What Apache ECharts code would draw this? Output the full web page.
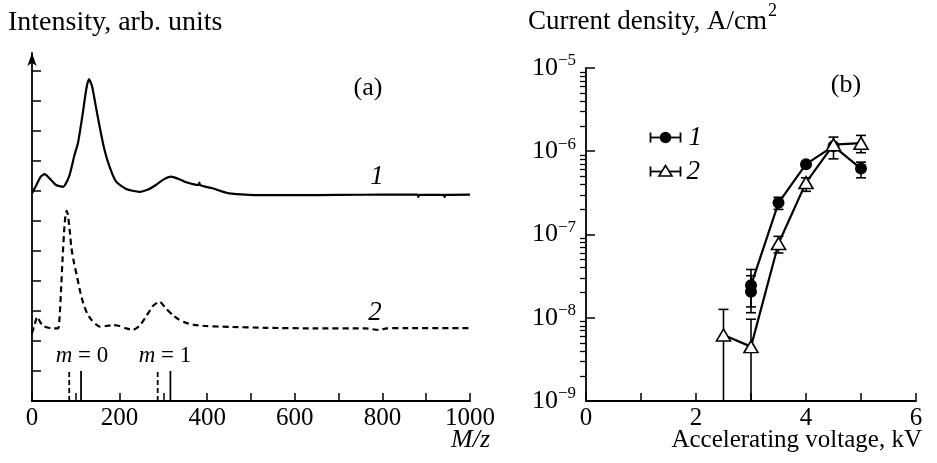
<!DOCTYPE html>
<html>
<head>
<meta charset="utf-8">
<script src="https://cdn.jsdelivr.net/npm/echarts@6/dist/echarts.min.js"></script>
<style>
  html, body { margin: 0; padding: 0; background: #fff; }
  #chart { width: 937px; height: 463px; }
</style>
</head>
<body>
<div id="chart"></div>
<script>
// ---- panel (a): mass spectra, [M/z, intensity in tick units]
const spectrum1 = [
  [0, 6.92], [10, 7.2], [20, 7.48], [29, 7.56], [40, 7.42], [55, 7.2], [71, 7.14],
  [85, 7.5], [97, 8.2], [105, 8.6], [115, 9.5], [124, 10.4], [130, 10.73], [137, 10.5],
  [146, 9.8], [155, 9.1], [165, 8.4], [177, 7.81], [192, 7.31], [215, 7.07], [245, 6.97],
  [265, 7.05], [283, 7.2], [300, 7.38], [317, 7.48], [335, 7.4], [352, 7.29], [370, 7.22],
  [380, 7.2], [382, 7.28], [384, 7.19], [412, 7.09], [450, 6.92], [533, 6.86], [600, 6.86],
  [700, 6.87], [800, 6.88], [880, 6.88], [882, 6.8], [884, 6.87], [940, 6.87], [942, 6.8],
  [944, 6.87], [1000, 6.88]
]
const spectrum2 = [
  [0, 2.26], [6, 2.55], [12, 2.81], [18, 2.65], [25, 2.5], [33, 2.46], [50, 2.42], [60, 2.43],
  [63, 2.8], [66, 3.6], [70, 4.8], [74, 5.8], [77, 6.25], [79, 6.34], [82, 6.2], [86, 5.7],
  [90, 5.1], [96, 4.6], [102, 4.2], [110, 3.65], [117, 3.26], [126, 2.92], [136, 2.7],
  [155, 2.48], [170, 2.5], [185, 2.53], [200, 2.5], [215, 2.42], [230, 2.37], [245, 2.5],
  [260, 2.8], [275, 3.15], [291, 3.31], [305, 3.1], [321, 2.87], [335, 2.72], [351, 2.61],
  [370, 2.54], [397, 2.5], [450, 2.47], [533, 2.44], [650, 2.42], [761, 2.42], [791, 2.37],
  [810, 2.42], [850, 2.43], [1000, 2.43]
]
const sticksDashed = [85, 287]   // m = 0, m = 1
const sticksSolid = [112, 316]
const stickHeight = 1
const intensityTicks = [1, 2, 3, 4, 5, 6, 7, 8, 9, 10, 11]
const mzLabels = [0, 200, 400, 600, 800, 1000]

// ---- panel (b): current density vs accelerating voltage
const voltage1 = [3, 3, 3.5, 4, 4.5, 5]
const density1 = [2.05e-8, 2.45e-8, 2.4e-7, 7.0e-7, 1.15e-6, 6.2e-7]
const err1Low = [1.15e-8, 1.35e-8, 2.0e-7, null, null, 4.8e-7]
const err1High = [3.2e-8, 3.8e-8, 2.8e-7, null, null, 7.4e-7]
const voltage2 = [2.5, 3, 3.5, 4, 4.5, 5]
const density2 = [6.2e-9, 4.5e-9, 7.8e-8, 4.2e-7, 1.2e-6, 1.25e-6]
const err2Low = [1e-9, 1e-9, 6.0e-8, 3.3e-7, 8.1e-7, 9.6e-7]
const err2High = [1.26e-8, 9.6e-9, 9.5e-8, 4.8e-7, 1.48e-6, 1.55e-6]
const voltageLabels = [0, 2, 4, 6]

const minorDecadeTicks = []
for (let e = -9; e < -5; e++) {
  for (let m = 2; m <= 9; m++) minorDecadeTicks.push(m * Math.pow(10, e))
}

const FONT = 'Liberation Serif'
const INK = '#000'

const chart = echarts.init(document.getElementById('chart'))

const pairs = (xs, ys) => xs.map((x, i) => [x, ys[i]])
const errRows = (xs, lo, hi) => xs.map((x, i) => [x, lo[i], hi[i]]).filter(r => r[1] != null)

const renderErr = (params, api) => {
  const x = api.value(0)
  const top = api.coord([x, api.value(2)])
  const bot = api.coord([x, api.value(1)])
  const w = 5
  const st = { stroke: INK, lineWidth: 1.6 }
  return {
    type: 'group',
    children: [
      { type: 'line', shape: { x1: top[0], y1: top[1], x2: bot[0], y2: bot[1] }, style: st },
      { type: 'line', shape: { x1: top[0] - w, y1: top[1], x2: top[0] + w, y2: top[1] }, style: st },
      { type: 'line', shape: { x1: bot[0] - w, y1: bot[1], x2: bot[0] + w, y2: bot[1] }, style: st }
    ]
  }
}

const stickSeries = (xs, dashed) => xs.map(x => ({
  type: 'line',
  xAxisIndex: 0,
  yAxisIndex: 0,
  data: [[x, 0], [x, stickHeight]],
  symbol: 'none',
  lineStyle: { color: INK, width: 1.8, type: dashed ? [5, 3] : 'solid' },
  silent: true
}))

const axisLine = { show: true, onZero: false, lineStyle: { color: INK, width: 1.8 } }
const tickLabel = { fontFamily: FONT, fontSize: 25, color: INK, formatter: v => String(v) }

const option = {
  animation: false,
  backgroundColor: '#fff',
  grid: [
    { left: 32, top: 53, width: 438, height: 348 },
    { left: 586, top: 68, width: 330, height: 333 }
  ],
  xAxis: [
    {
      gridIndex: 0, type: 'value', min: 0, max: 1000, interval: 100,
      axisLine,
      axisTick: { inside: true, length: 8, lineStyle: { color: INK, width: 1.5 } },
      axisLabel: { ...tickLabel, customValues: mzLabels, margin: 5 },
      splitLine: { show: false }
    },
    {
      gridIndex: 1, type: 'value', min: 0, max: 6, interval: 1,
      axisLine,
      axisTick: { inside: true, length: 8, lineStyle: { color: INK, width: 1.5 } },
      axisLabel: { ...tickLabel, customValues: voltageLabels, margin: 5 },
      splitLine: { show: false }
    }
  ],
  yAxis: [
    {
      gridIndex: 0, type: 'value', min: 0, max: 11.6,
      axisLine: { ...axisLine, symbol: ['none', 'arrow'], symbolSize: [7, 13] },
      axisTick: { inside: true, length: 9, customValues: intensityTicks, lineStyle: { color: INK, width: 1.5 } },
      axisLabel: { show: false },
      splitLine: { show: false }
    },
    {
      gridIndex: 1, type: 'log', logBase: 10, min: 1e-9, max: 1e-5,
      axisLine,
      axisTick: { inside: true, length: 9, lineStyle: { color: INK, width: 1.5 } },
      axisLabel: {
        margin: 10,
        formatter: v => '{b|10}{s|\u2212' + Math.abs(Math.round(Math.log10(v))) + '}',
        rich: {
          b: { fontFamily: FONT, fontSize: 26, color: INK },
          s: { fontFamily: FONT, fontSize: 17, color: INK, padding: [0, 0, 14, 0] }
        }
      },
      splitLine: { show: false }
    },
    {
      gridIndex: 1, type: 'log', logBase: 10, min: 1e-9, max: 1e-5,
      axisLine: { show: false },
      axisTick: { inside: true, length: 6, customValues: minorDecadeTicks, lineStyle: { color: INK, width: 1.3 } },
      axisLabel: { show: false },
      splitLine: { show: false }
    }
  ],
  series: [
    {
      type: 'line', xAxisIndex: 0, yAxisIndex: 0, data: spectrum1,
      symbol: 'none', smooth: 0.2,
      lineStyle: { color: INK, width: 2.2 }
    },
    {
      type: 'line', xAxisIndex: 0, yAxisIndex: 0, data: spectrum2,
      symbol: 'none', smooth: 0.2,
      lineStyle: { color: INK, width: 2.2, type: [6, 4] }
    },
    ...stickSeries(sticksDashed, true),
    ...stickSeries(sticksSolid, false),
    {
      type: 'custom', xAxisIndex: 1, yAxisIndex: 1, clip: true, z: 1,
      data: errRows(voltage1, err1Low, err1High), renderItem: renderErr
    },
    {
      type: 'custom', xAxisIndex: 1, yAxisIndex: 1, clip: true, z: 1,
      data: errRows(voltage2, err2Low, err2High), renderItem: renderErr
    },
    {
      type: 'line', xAxisIndex: 1, yAxisIndex: 1, data: pairs(voltage1, density1), z: 3,
      symbol: 'circle', symbolSize: 12,
      itemStyle: { color: INK },
      lineStyle: { color: INK, width: 2.2 }
    },
    {
      type: 'line', xAxisIndex: 1, yAxisIndex: 1, data: pairs(voltage2, density2), z: 4,
      symbol: 'triangle', symbolSize: [14, 12],
      itemStyle: { color: '#fff', borderColor: INK, borderWidth: 1.6 },
      lineStyle: { color: INK, width: 2.2 }
    }
  ],
  graphic: [
    { type: 'text', left: 8, top: 9, style: { text: 'Intensity, arb. units', font: '28px "Liberation Serif"', fill: INK } },
    {
      type: 'text', left: 528, top: 2,
      style: {
        text: '{t|Current density, A/cm}{s|2}',
        rich: {
          t: { fontFamily: FONT, fontSize: 27, fill: INK, padding: [10, 0, 0, 0] },
          s: { fontFamily: FONT, fontSize: 18, fill: INK, padding: [0, 0, 12, 1] }
        }
      }
    },
    { type: 'text', x: 368, y: 88, style: { text: '(a)', font: '26px "Liberation Serif"', fill: INK, align: 'center', verticalAlign: 'middle' } },
    { type: 'text', x: 846, y: 85, style: { text: '(b)', font: '26px "Liberation Serif"', fill: INK, align: 'center', verticalAlign: 'middle' } },
    { type: 'text', x: 377, y: 177, style: { text: '1', font: 'italic 27px "Liberation Serif"', fill: INK, align: 'center', verticalAlign: 'middle' } },
    { type: 'text', x: 375, y: 313, style: { text: '2', font: 'italic 27px "Liberation Serif"', fill: INK, align: 'center', verticalAlign: 'middle' } },
    {
      type: 'text', x: 82, y: 356,
      style: { text: '{i|m} = 0', align: 'center', verticalAlign: 'middle', font: '23px "Liberation Serif"', fill: INK,
        rich: { i: { fontFamily: FONT, fontStyle: 'italic', fontSize: 23, fill: INK } } }
    },
    {
      type: 'text', x: 165, y: 356,
      style: { text: '{i|m} = 1', align: 'center', verticalAlign: 'middle', font: '23px "Liberation Serif"', fill: INK,
        rich: { i: { fontFamily: FONT, fontStyle: 'italic', fontSize: 23, fill: INK } } }
    },
    { type: 'text', x: 490, y: 440, style: { text: 'M/z', font: 'italic 26px "Liberation Serif"', fill: INK, align: 'right', verticalAlign: 'middle' } },
    { type: 'text', x: 922, y: 440, style: { text: 'Accelerating voltage, kV', font: '25px "Liberation Serif"', fill: INK, align: 'right', verticalAlign: 'middle' } },
    // legend
    {
      type: 'group', left: 648, top: 124,
      children: [
        { type: 'line', shape: { x1: 0, y1: 6, x2: 30, y2: 6 }, style: { stroke: INK, lineWidth: 1.8 } },
        { type: 'line', shape: { x1: 0, y1: 1, x2: 0, y2: 11 }, style: { stroke: INK, lineWidth: 1.8 } },
        { type: 'line', shape: { x1: 30, y1: 1, x2: 30, y2: 11 }, style: { stroke: INK, lineWidth: 1.8 } },
        { type: 'circle', shape: { cx: 15, cy: 6, r: 5.8 }, style: { fill: INK } },
        { type: 'text', x: 38, y: 6, style: { text: '1', font: 'italic 27px "Liberation Serif"', fill: INK, verticalAlign: 'middle' } }
      ]
    },
    {
      type: 'group', left: 648, top: 158,
      children: [
        { type: 'line', shape: { x1: 0, y1: 6, x2: 30, y2: 6 }, style: { stroke: INK, lineWidth: 1.8 } },
        { type: 'line', shape: { x1: 0, y1: 1, x2: 0, y2: 11 }, style: { stroke: INK, lineWidth: 1.8 } },
        { type: 'line', shape: { x1: 30, y1: 1, x2: 30, y2: 11 }, style: { stroke: INK, lineWidth: 1.8 } },
        { type: 'polygon', shape: { points: [[15, 0], [8.5, 10.5], [21.5, 10.5]] }, style: { fill: '#fff', stroke: INK, lineWidth: 1.6 } },
        { type: 'text', x: 36, y: 6, style: { text: '2', font: 'italic 27px "Liberation Serif"', fill: INK, verticalAlign: 'middle' } }
      ]
    }
  ]
}

chart.setOption(option)
</script>
</body>
</html>
